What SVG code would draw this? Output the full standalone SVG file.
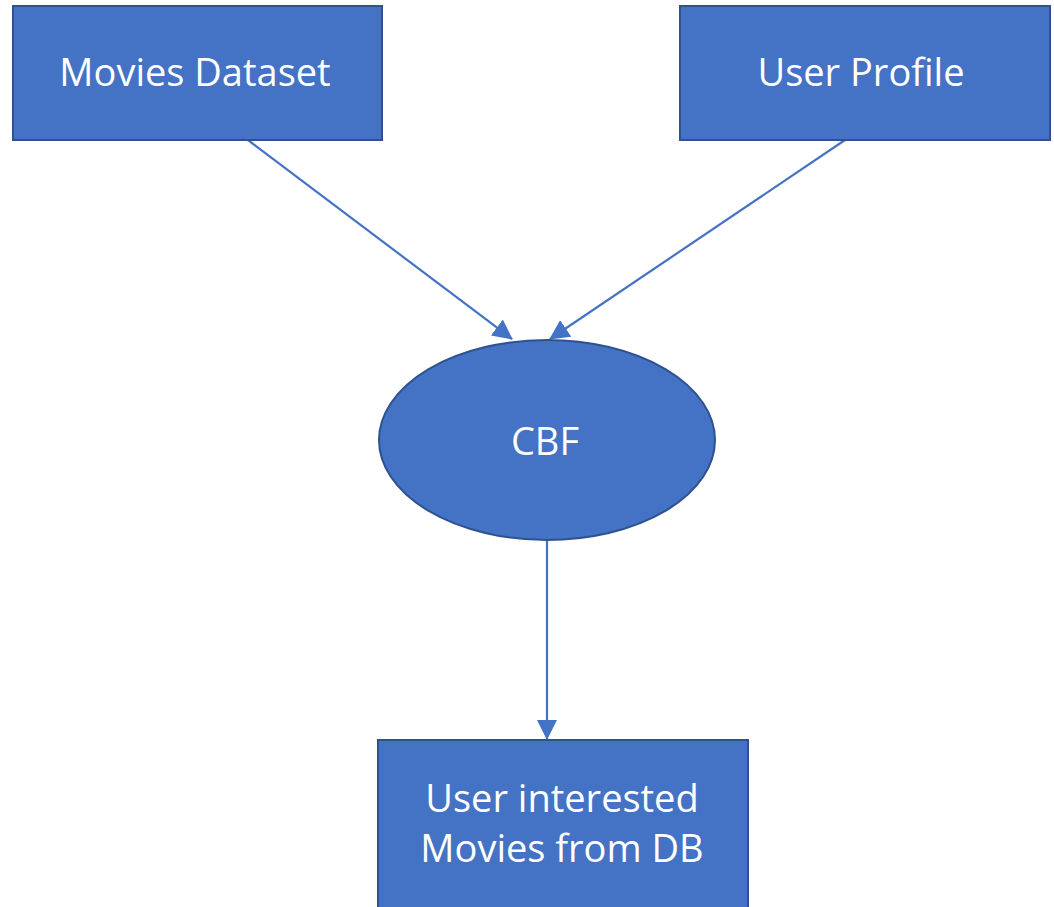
<svg xmlns="http://www.w3.org/2000/svg" width="1054" height="907" viewBox="0 0 1054 907">
<style>
.node{fill:#4472C4;stroke:#2F528F;stroke-width:2}
.lbl{fill:#fff;font-family:"Open Sans","Noto Sans",sans-serif;font-size:38px;text-anchor:middle}
.edge{stroke:#4472C4;stroke-width:2.2;fill:none}
</style>
<defs>
<marker id="ah2" viewBox="0 0 20 20" refX="19" refY="10" markerWidth="20" markerHeight="20" orient="auto" markerUnits="userSpaceOnUse">
<path d="M0,0 L20,10 L0,20 z" fill="#4472C4"/>
</marker>
</defs>
<g id="edges">
<line class="edge" x1="248" y1="140" x2="512" y2="339" marker-end="url(#ah2)"/>
<line class="edge" x1="845" y1="140" x2="550" y2="339" marker-end="url(#ah2)"/>
<line class="edge" x1="547" y1="540" x2="547" y2="739" marker-end="url(#ah2)"/>
</g>
<g id="movies">
<rect class="node" x="13" y="6" width="369" height="134"/>
<text class="lbl" x="195" y="86">Movies Dataset</text>
</g>
<g id="profile">
<rect class="node" x="680" y="6" width="370" height="134"/>
<text class="lbl" x="861" y="86">User Profile</text>
</g>
<g id="cbf">
<ellipse class="node" cx="547" cy="440" rx="168" ry="100"/>
<text class="lbl" x="545" y="455">CBF</text>
</g>
<g id="result">
<rect class="node" x="378" y="740" width="370" height="170"/>
<text class="lbl" x="562" y="812">User interested</text>
<text class="lbl" x="562" y="862">Movies from DB</text>
</g>
</svg>
